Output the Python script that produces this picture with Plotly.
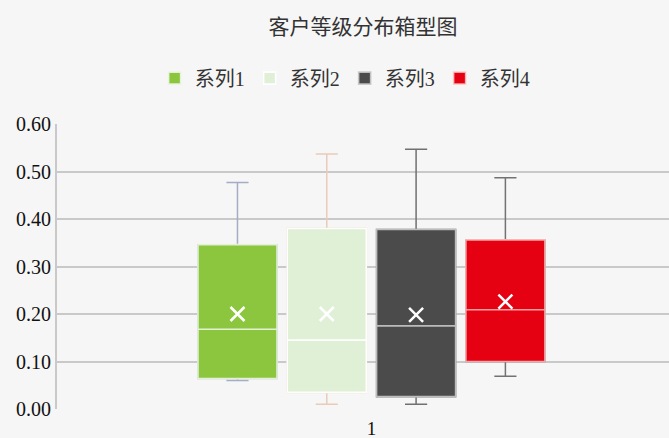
import plotly.graph_objects as go

series_names = ["系列1", "系列2", "系列3", "系列4"]
category_label = ["1"]
q1_vals = [0.064, 0.035, 0.026, 0.100]
median_vals = [0.168, 0.145, 0.175, 0.209]
q3_vals = [0.346, 0.380, 0.378, 0.356]
lower_vals = [0.060, 0.010, 0.010, 0.069]
upper_vals = [0.477, 0.537, 0.547, 0.487]
mean_vals = [0.200, 0.200, 0.198, 0.226]
y_ticks = [0.0, 0.1, 0.2, 0.3, 0.4, 0.5, 0.6]

fill_colors = ["#8cc63f", "#dff0d6", "#4b4b4b", "#e50012"]
whisker_colors = ["#a4acc8", "#e9cbb8", "#707070", "#727272"]
median_colors = ["rgba(235,245,225,0.9)", "rgba(255,255,255,0.95)", "rgba(200,200,200,0.9)", "rgba(255,200,200,0.8)"]

FONT = "'Liberation Serif', 'Times New Roman', 'Noto Sans CJK SC', serif"
box_w = 0.885

fig = go.Figure()
for i, name in enumerate(series_names):
    # whisker layer
    fig.add_trace(go.Box(
        x=[i], q1=[q1_vals[i]], median=[median_vals[i]], q3=[q3_vals[i]],
        lowerfence=[lower_vals[i]], upperfence=[upper_vals[i]],
        width=box_w, whiskerwidth=0.28,
        line=dict(color=whisker_colors[i], width=1.5),
        fillcolor=fill_colors[i], showlegend=False, hoverinfo="skip",
    ))
    # box layer
    fig.add_trace(go.Box(
        x=[i], q1=[q1_vals[i]], median=[median_vals[i]], q3=[q3_vals[i]],
        lowerfence=[q1_vals[i]], upperfence=[q3_vals[i]],
        width=box_w, whiskerwidth=0,
        line=dict(color=median_colors[i], width=1.6),
        fillcolor=fill_colors[i], name=name, showlegend=True,
    ))
    fig.add_trace(go.Scatter(
        x=[i], y=[mean_vals[i]], mode="markers",
        marker=dict(symbol="x-thin", size=14, line=dict(color="white", width=2.5)),
        showlegend=False, hoverinfo="skip",
    ))

fig.update_layout(
    width=669, height=438,
    margin=dict(l=57, r=0, t=124, b=29, autoexpand=False),
    paper_bgcolor="#f6f6f6", plot_bgcolor="#f6f6f6",
    boxmode="overlay",
    title=dict(text="客户等级分布箱型图", x=0.5, xref="paper", y=1 - 27 / 438, yanchor="middle",
               xanchor="center", font=dict(family=FONT, size=21, color="#333333")),
    legend=dict(orientation="h", x=0.47, xanchor="center", y=1.161, yanchor="middle",
                font=dict(family=FONT, size=20, color="#333333"), bgcolor="rgba(0,0,0,0)",
                itemwidth=30, traceorder="normal"),
    font=dict(family=FONT, color="#222222"),
    showlegend=True,
)
fig.update_xaxes(
    range=[-2.021, 4.832], tickvals=[1.5], ticktext=category_label,
    showgrid=False, zeroline=False, showline=False, ticks="", automargin=False,
    ticklabelstandoff=6,
    tickfont=dict(family=FONT, size=19, color="#111111"),
)
fig.update_yaxes(
    range=[0, 0.6], tickvals=y_ticks, tickformat=".2f", automargin=False,
    showgrid=True, gridcolor="#c9c9c9", gridwidth=2,
    zeroline=False, showline=True, linecolor="#c9c9c9", linewidth=2,
    ticks="", ticklabelstandoff=0,
    tickfont=dict(family=FONT, size=20, color="#111111"),
)

fig.write_html("out.html", config={"displayModeBar": False},
               post_script="document.body.style.margin='0';document.body.style.background='#f6f6f6';")
